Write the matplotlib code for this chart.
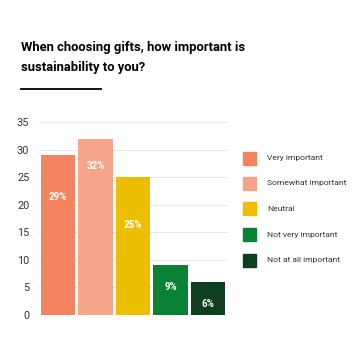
import matplotlib.pyplot as plt
from matplotlib.lines import Line2D

categories = ["Very important", "Somewhat important", "Neutral",
              "Not very important", "Not at all important"]
values = [29, 32, 25, 9, 6]
value_labels = ["29%", "32%", "25%", "9%", "6%"]
label_y = [21.4, 27.0, 16.3, 5.1, 2.0]
colors = ["#F4845F", "#F5A68A", "#EDBE00", "#0A8236", "#0E4020"]
yticks = [0, 5, 10, 15, 20, 25, 30, 35]

plt.rcParams['font.family'] = ['Roboto', 'DejaVu Sans']

fig = plt.figure(figsize=(3.64, 3.64), dpi=100)
ax = fig.add_axes([39 / 364, 1 - 315 / 364, 188 / 364, 193 / 364])

x = list(range(len(values)))
bars = ax.bar(x, values, width=0.92, color=colors, zorder=2)
for xi, ly, lab in zip(x, label_y, value_labels):
    ax.text(xi, ly, lab, ha="center", va="center", color="white",
            fontsize=7, fontweight="bold", zorder=3)

ax.set_xlim(-0.5, len(values) - 0.5)
ax.set_ylim(0, 35)
ax.set_yticks(yticks)
ax.set_xticks([])
ax.yaxis.grid(True, color="#e6e6e6", linewidth=0.7, zorder=0)
for s in ax.spines.values():
    s.set_visible(False)
ax.tick_params(axis="y", length=0, pad=7, labelsize=7.8, labelcolor="#333333")

# legend drawn by hand as squares + text
for i, (cat, c) in enumerate(zip(categories, colors)):
    yy = 1 - (158 + i * 25.5) / 364
    fig.patches.append(plt.Rectangle((243 / 364, yy - 6.5 / 364), 13 / 364, 13 / 364,
                                     transform=fig.transFigure, color=c))
    fig.text(267 / 364, yy, cat, fontsize=6.1, color="#333333", va="center")

fig.text(21 / 364, 1 - 47 / 364, "When choosing gifts, how important is",
         fontsize=9.4, fontweight="bold", va="center")
fig.text(21 / 364, 1 - 67 / 364, "sustainability to you?",
         fontsize=9.4, fontweight="bold", va="center")
fig.add_artist(Line2D([21 / 364, 101 / 364], [1 - 89 / 364, 1 - 89 / 364],
                      color="black", linewidth=1.3, transform=fig.transFigure))

fig.savefig("out.png", dpi=100, facecolor="white")
